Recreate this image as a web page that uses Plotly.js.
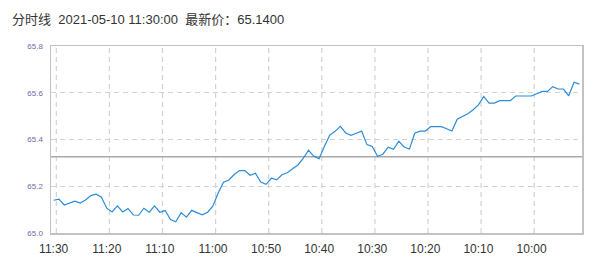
<!DOCTYPE html>
<html>
<head>
<meta charset="utf-8">
<script src="https://cdn.plot.ly/plotly-3.0.1.min.js"></script>
<style>
html,body{margin:0;padding:0;background:#fff;}
#chart{width:605px;height:265px;}
</style>
</head>
<body>
<div id="chart"></div>
<script>
// ---- data ----
const times = [
 "11:30","11:29","11:28","11:27","11:26","11:25","11:24","11:23","11:22","11:21",
 "11:20","11:19","11:18","11:17","11:16","11:15","11:14","11:13","11:12","11:11",
 "11:10","11:09","11:08","11:07","11:06","11:05","11:04","11:03","11:02","11:01",
 "11:00","10:59","10:58","10:57","10:56","10:55","10:54","10:53","10:52","10:51",
 "10:50","10:49","10:48","10:47","10:46","10:45","10:44","10:43","10:42","10:41",
 "10:40","10:39","10:38","10:37","10:36","10:35","10:34","10:33","10:32","10:31",
 "10:30","10:29","10:28","10:27","10:26","10:25","10:24","10:23","10:22","10:21",
 "10:20","10:19","10:18","10:17","10:16","10:15","10:14","10:13","10:12","10:11",
 "10:10","10:09","10:08","10:07","10:06","10:05","10:04","10:03","10:02","10:01",
 "10:00","09:59","09:58","09:57","09:56","09:55","09:54","09:53","09:52","09:51"
];
const prices = [
 65.140, 65.145, 65.120, 65.127, 65.136, 65.128, 65.141, 65.160, 65.166, 65.153,
 65.106, 65.090, 65.116, 65.090, 65.105, 65.077, 65.076, 65.106, 65.089, 65.116,
 65.089, 65.096, 65.058, 65.048, 65.087, 65.068, 65.097, 65.087, 65.078, 65.089,
 65.116, 65.172, 65.217, 65.227, 65.250, 65.267, 65.267, 65.247, 65.256, 65.218,
 65.208, 65.234, 65.227, 65.249, 65.258, 65.275, 65.291, 65.319, 65.354, 65.328,
 65.318, 65.371, 65.419, 65.435, 65.456, 65.428, 65.418, 65.427, 65.436, 65.378,
 65.370, 65.328, 65.337, 65.367, 65.358, 65.393, 65.368, 65.359, 65.427, 65.436,
 65.436, 65.455, 65.455, 65.455, 65.446, 65.436, 65.487, 65.498, 65.510, 65.527,
 65.548, 65.584, 65.556, 65.556, 65.566, 65.566, 65.566, 65.586, 65.586, 65.586,
 65.586, 65.596, 65.606, 65.606, 65.626, 65.616, 65.616, 65.587, 65.645, 65.637
];
const xTickLabels = ["11:30","11:20","11:10","11:00","10:50","10:40","10:30","10:20","10:10","10:00"];
const yTickVals = [65.0, 65.2, 65.4, 65.6, 65.8];
const yTickText = ["65.0", "65.2", "65.4", "65.6", "65.8"];
const prevClose = 65.326;
const titleText = "分时线\u00a0\u00a02021-05-10 11:30:00\u00a0\u00a0最新价：65.1400";

// ---- chart ----
const FONT = "Liberation Sans, Arial, Noto Sans CJK SC, sans-serif";
const gridColor = "#d2d2d2";

const shapes = xTickLabels.map(function(t){
  const idx = times.indexOf(t) + 0.5;
  return {type:"line", xref:"x", yref:"paper", x0:idx, x1:idx, y0:0, y1:1,
          line:{color:gridColor, width:1.2, dash:"5px,4px"}, layer:"below"};
});
shapes.push({type:"line", xref:"paper", yref:"y", x0:0, x1:1, y0:prevClose, y1:prevClose,
             line:{color:"#a8a8a8", width:1.5}, layer:"below"});

const trace = {
  x: times, y: prices, type: "scatter", mode: "lines",
  line: {color: "#2b8cd8", width: 1.2},
  hoverinfo: "skip"
};

const layout = {
  width: 605, height: 265,
  margin: {l: 51, r: 23, t: 46, b: 32, pad: 0},
  paper_bgcolor: "#ffffff", plot_bgcolor: "#ffffff",
  showlegend: false,
  font: {family: FONT},
  title: {
    text: titleText,
    x: 12/605, xref: "container", xanchor: "left",
    y: 1 - 19/265, yref: "container", yanchor: "middle",
    font: {family: FONT, size: 13, color: "#333333"}
  },
  xaxis: {
    type: "category",
    range: [-0.5, times.length - 0.5],
    tickmode: "array", tickvals: xTickLabels, ticktext: xTickLabels,
    showgrid: false, zeroline: false,
    showline: true, mirror: true, linecolor: "#c2c2c2", linewidth: 1.5,
    ticks: "", ticklabelstandoff: 4,
    tickfont: {family: FONT, size: 12, color: "#333333"}
  },
  yaxis: {
    range: [65.0, 65.8],
    tickmode: "array", tickvals: yTickVals, ticktext: yTickText,
    showgrid: true, gridcolor: gridColor, gridwidth: 1.2, griddash: "5px,4px",
    zeroline: false,
    showline: true, mirror: true, linecolor: "#c2c2c2", linewidth: 1.5,
    ticks: "", ticklabelstandoff: 5,
    tickfont: {family: FONT, size: 8, color: "#6c6ca6"}
  },
  shapes: shapes
};

Plotly.newPlot("chart", [trace], layout, {displayModeBar: false, staticPlot: true});
</script>
</body>
</html>
